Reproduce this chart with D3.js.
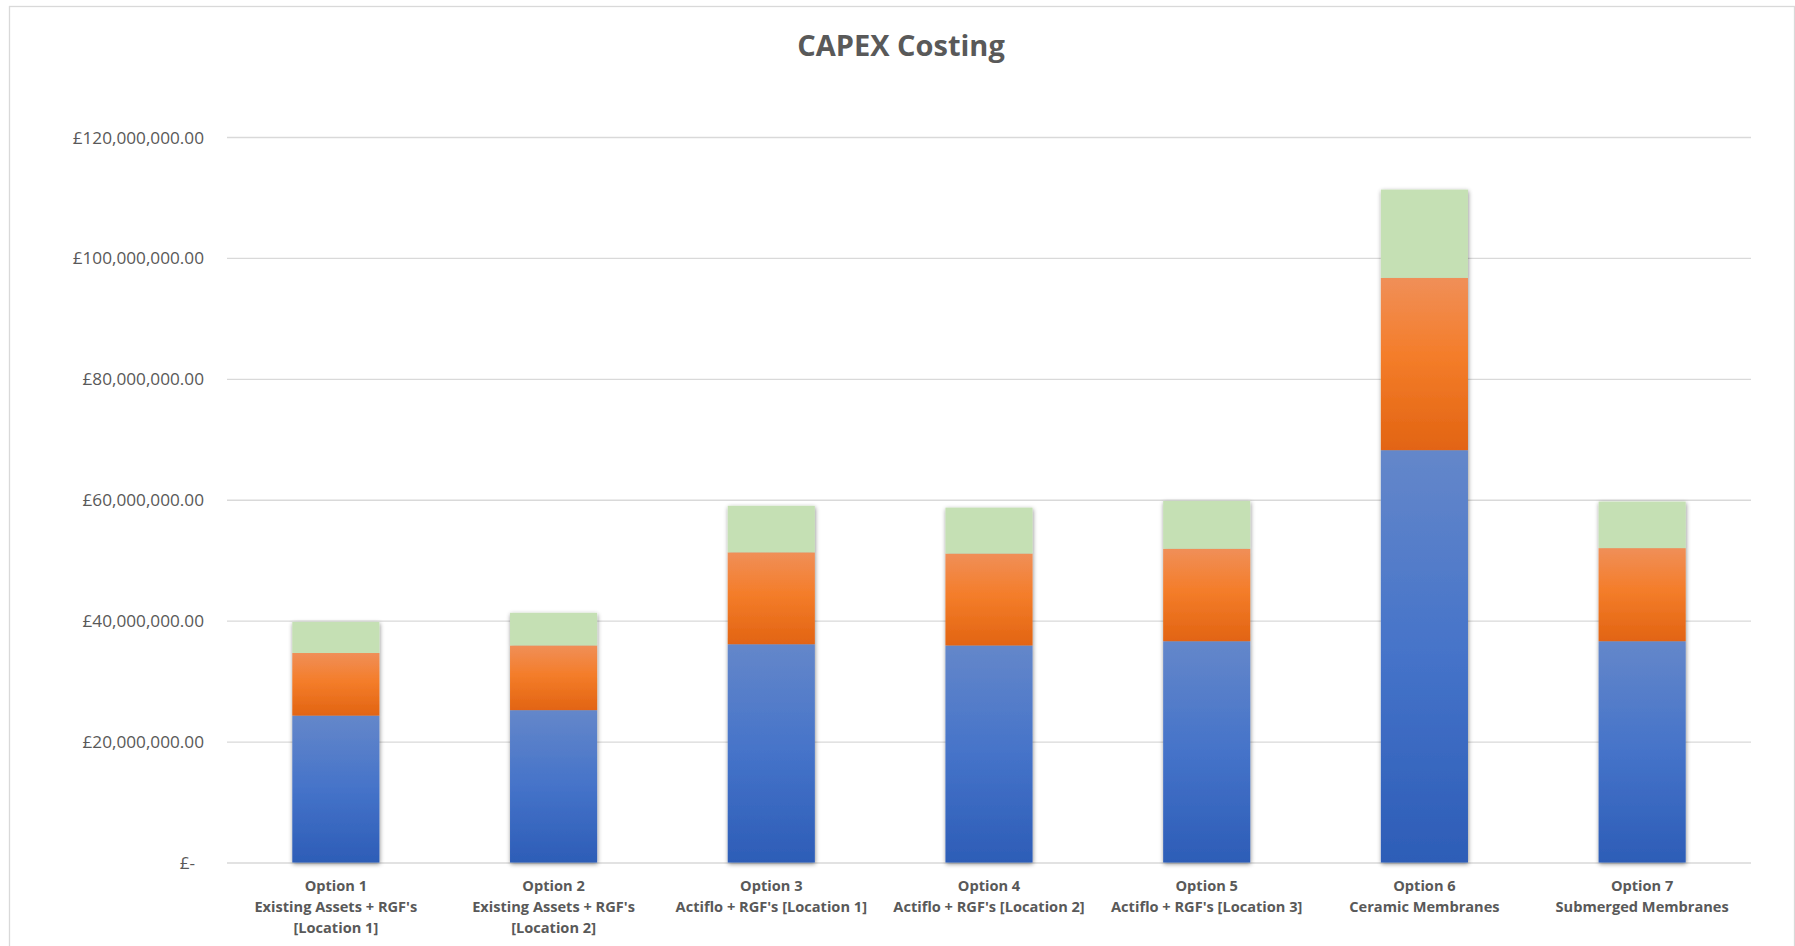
<!DOCTYPE html>
<html>
<head>
<meta charset="utf-8">
<title>CAPEX Costing</title>
<script src="https://cdn.jsdelivr.net/npm/d3@7/dist/d3.min.js"></script>
<style>
  html, body { margin: 0; padding: 0; background: #ffffff; }
  svg { display: block; }
  .title { font-family: "Open Sans", "Noto Sans", sans-serif; font-weight: 700; font-size: 29px; fill: #595959; }
  .y-axis text { font-family: "Open Sans", "Noto Sans", sans-serif; font-size: 17.2px; fill: #595959; }
  .x-label { font-family: "Open Sans", "Noto Sans", sans-serif; font-weight: 700; font-size: 14.6px; fill: #595959; }
</style>
</head>
<body>
<script>
// Category labels (each entry is the list of lines under the bar)
const categories = [
  ["Option 1", "Existing Assets + RGF's", "[Location 1]"],
  ["Option 2", "Existing Assets + RGF's", "[Location 2]"],
  ["Option 3", "Actiflo + RGF's [Location 1]"],
  ["Option 4", "Actiflo + RGF's [Location 2]"],
  ["Option 5", "Actiflo + RGF's [Location 3]"],
  ["Option 6", "Ceramic Membranes"],
  ["Option 7", "Submerged Membranes"]
];

// Cost components per option, in pounds (stacked bottom to top)
const series1 = [24300000, 25200000, 36100000, 35900000, 36600000, 68200000, 36600000];
const series2 = [10350000, 10700000, 15200000, 15200000, 15300000, 28500000, 15400000];
const series3 = [5150000, 5400000, 7700000, 7600000, 7900000, 14600000, 7700000];

// Value axis ticks
const yTicks = [0, 20000000, 40000000, 60000000, 80000000, 100000000, 120000000];

const W = 1795, H = 946;
const plot = { left: 227, right: 1751, top: 137, bottom: 862.5 };

const svg = d3.select("body").append("svg")
  .attr("width", W).attr("height", H);

const defs = svg.append("defs");

// Vertical gradients for each component (light at top, deeper at bottom)
const gradients = [
  { id: "g1", stops: [[0, "#6487ca"], [0.5, "#4573c9"], [1, "#2d5db7"]] },
  { id: "g2", stops: [[0, "#f08f58"], [0.45, "#f47d2a"], [1, "#e26412"]] },
  { id: "g3", stops: [[0, "#c5e0b4"], [1, "#c5e0b4"]] }
];
gradients.forEach(g => {
  const lg = defs.append("linearGradient").attr("id", g.id)
    .attr("x1", 0).attr("y1", 0).attr("x2", 0).attr("y2", 1);
  g.stops.forEach(s => lg.append("stop").attr("offset", s[0]).attr("stop-color", s[1]));
});

// Soft outer shadow around each stacked column
const shadow = defs.append("filter").attr("id", "barShadow")
  .attr("x", "-20%").attr("y", "-10%").attr("width", "140%").attr("height", "120%");
shadow.append("feDropShadow")
  .attr("dx", 0.5).attr("dy", 1.5).attr("stdDeviation", 2.2)
  .attr("flood-color", "#000").attr("flood-opacity", 0.45);

// Chart frame
svg.append("rect")
  .attr("x", 9.5).attr("y", 6.5).attr("width", 1785).attr("height", 980)
  .attr("fill", "#ffffff").attr("stroke", "#d9d9d9").attr("stroke-width", 1.3);

// Title
svg.append("text").attr("class", "title")
  .attr("x", 901).attr("y", 56).attr("text-anchor", "middle")
  .text("CAPEX Costing");

// Scales
const x = d3.scaleBand()
  .domain(d3.range(categories.length))
  .range([plot.left, plot.right])
  .paddingInner(0.6).paddingOuter(0.3);

const y = d3.scaleLinear()
  .domain([0, 120000000])
  .range([plot.bottom, plot.top]);

// Gridlines and value axis labels
const fmt = d3.format(",.2f");
const yAxis = d3.axisLeft(y)
  .tickValues(yTicks)
  .tickSize(-(plot.right - plot.left))
  .tickPadding(23)
  .tickFormat(d => d === 0 ? "£-" : "£" + fmt(d));

const gy = svg.append("g").attr("class", "y-axis")
  .attr("transform", `translate(${plot.left},0)`)
  .call(yAxis);
gy.select(".domain").remove();
gy.selectAll(".tick line").attr("stroke", "#d9d9d9").attr("stroke-width", 1.3);
gy.selectAll(".tick text").attr("dy", "0.35em")
  .attr("dx", d => d === 0 ? -9 : 0);

// Stack the components
const rows = categories.map((c, i) => ({ i, s1: series1[i], s2: series2[i], s3: series3[i] }));
const keys = ["s1", "s2", "s3"];
const stacked = d3.stack().keys(keys)(rows);

const cols = svg.append("g").selectAll("g.col")
  .data(rows)
  .join("g")
  .attr("class", "col")
  .attr("filter", "url(#barShadow)");

cols.selectAll("rect")
  .data(r => stacked.map((layer, k) => ({ k, seg: layer[r.i], i: r.i })))
  .join("rect")
  .attr("x", d => x(d.i))
  .attr("width", x.bandwidth())
  .attr("y", d => y(d.seg[1]))
  .attr("height", d => y(d.seg[0]) - y(d.seg[1]))
  .attr("fill", d => `url(#${gradients[d.k].id})`);

// Category labels
const lab = svg.append("g").selectAll("text")
  .data(categories)
  .join("text")
  .attr("class", "x-label")
  .attr("text-anchor", "middle")
  .attr("x", (d, i) => x(i) + x.bandwidth() / 2)
  .attr("y", 891);

lab.selectAll("tspan")
  .data(d => d)
  .join("tspan")
  .attr("x", function () { return d3.select(this.parentNode).attr("x"); })
  .attr("dy", (d, j) => j === 0 ? 0 : 21)
  .text(d => d);
</script>
</body>
</html>
